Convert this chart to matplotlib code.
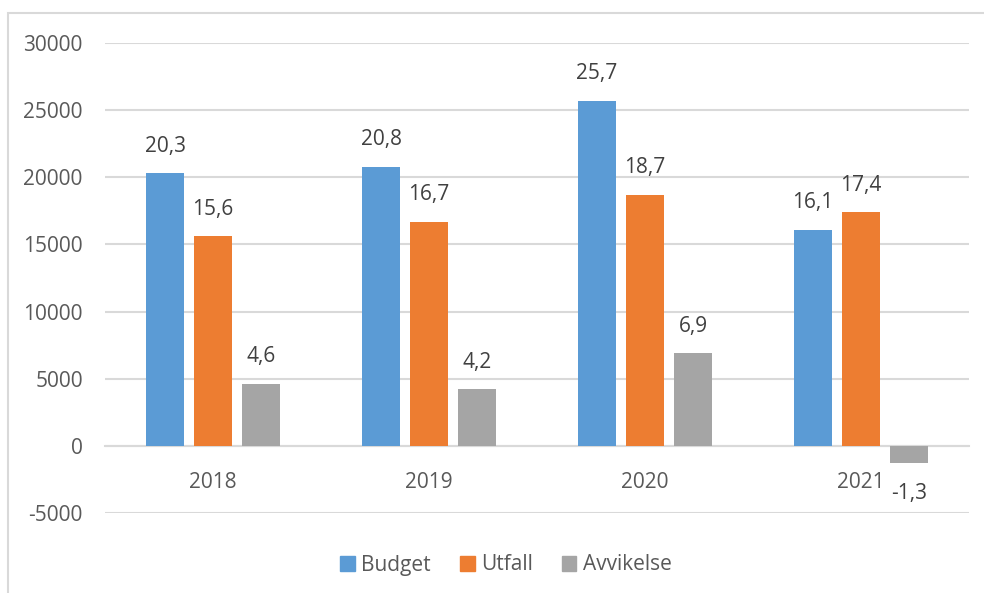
import matplotlib.pyplot as plt
import matplotlib.patches as mpatches
import numpy as np

# data (values in the bar labels are thousands)
years = ["2018", "2019", "2020", "2021"]
budget = [20300, 20800, 25700, 16100]
utfall = [15600, 16700, 18700, 17400]
avvikelse = [4600, 4200, 6900, -1300]

series = [
    ("Budget", budget, "#5B9BD5"),
    ("Utfall", utfall, "#ED7D31"),
    ("Avvikelse", avvikelse, "#A5A5A5"),
]

plt.rcParams["font.family"] = ["Open Sans", "DejaVu Sans"]
plt.rcParams["axes.unicode_minus"] = False

fig = plt.figure(figsize=(9.84, 5.93), dpi=100)
ax = fig.add_axes([105 / 984, 1 - 513 / 593, 864 / 984, 470 / 593])

x = np.arange(len(years))
width = 0.176
offsets = [-0.222, 0, 0.222]

for (name, vals, color), off in zip(series, offsets):
    bars = ax.bar(x + off, vals, width, color=color, label=name, zorder=3)
    for b, v in zip(bars, vals):
        txt = f"{v / 1000:.1f}".replace(".", ",")
        if v >= 0:
            ax.annotate(txt, (b.get_x() + b.get_width() / 2, v), xytext=(0, 12),
                        textcoords="offset points", ha="center", va="bottom",
                        fontsize=15, color="#404040")
        else:
            ax.annotate(txt, (b.get_x() + b.get_width() / 2, v), xytext=(0, -14),
                        textcoords="offset points", ha="center", va="top",
                        fontsize=15, color="#404040")

ax.set_xlim(-0.5, 3.5)
ax.set_ylim(-5000, 30000)
ax.set_yticks(range(-5000, 30001, 5000))
ax.grid(axis="y", color="#d9d9d9", linewidth=1.5, zorder=0)
ax.tick_params(axis="y", length=0, pad=16, labelsize=15, labelcolor="#595959")

ax.set_xticks(x)
ax.set_xticklabels(years)
ax.spines["bottom"].set_position(("data", 0))
ax.spines["bottom"].set_color("#d9d9d9")
ax.spines["bottom"].set_linewidth(1.5)
ax.tick_params(axis="x", length=0, pad=19, labelsize=15, labelcolor="#595959")
for s in ["top", "right", "left"]:
    ax.spines[s].set_visible(False)

handles = [mpatches.Patch(color=c, label=n) for n, _, c in series]
fig.legend(handles=handles, loc="center", bbox_to_anchor=(506 / 984, 1 - 565 / 593),
           ncol=3, frameon=False, fontsize=15, handlelength=0.7, handleheight=0.7,
           handletextpad=0.3, columnspacing=1.4, labelcolor="#595959")

# outer chart border
border = mpatches.Rectangle((8 / 984, -0.1), 1.2, 1 - 13 / 593 + 0.1,
                            transform=fig.transFigure, fill=False,
                            edgecolor="#d9d9d9", linewidth=1.5, clip_on=False)
fig.patches.append(border)

fig.savefig("out.png", dpi=100)
